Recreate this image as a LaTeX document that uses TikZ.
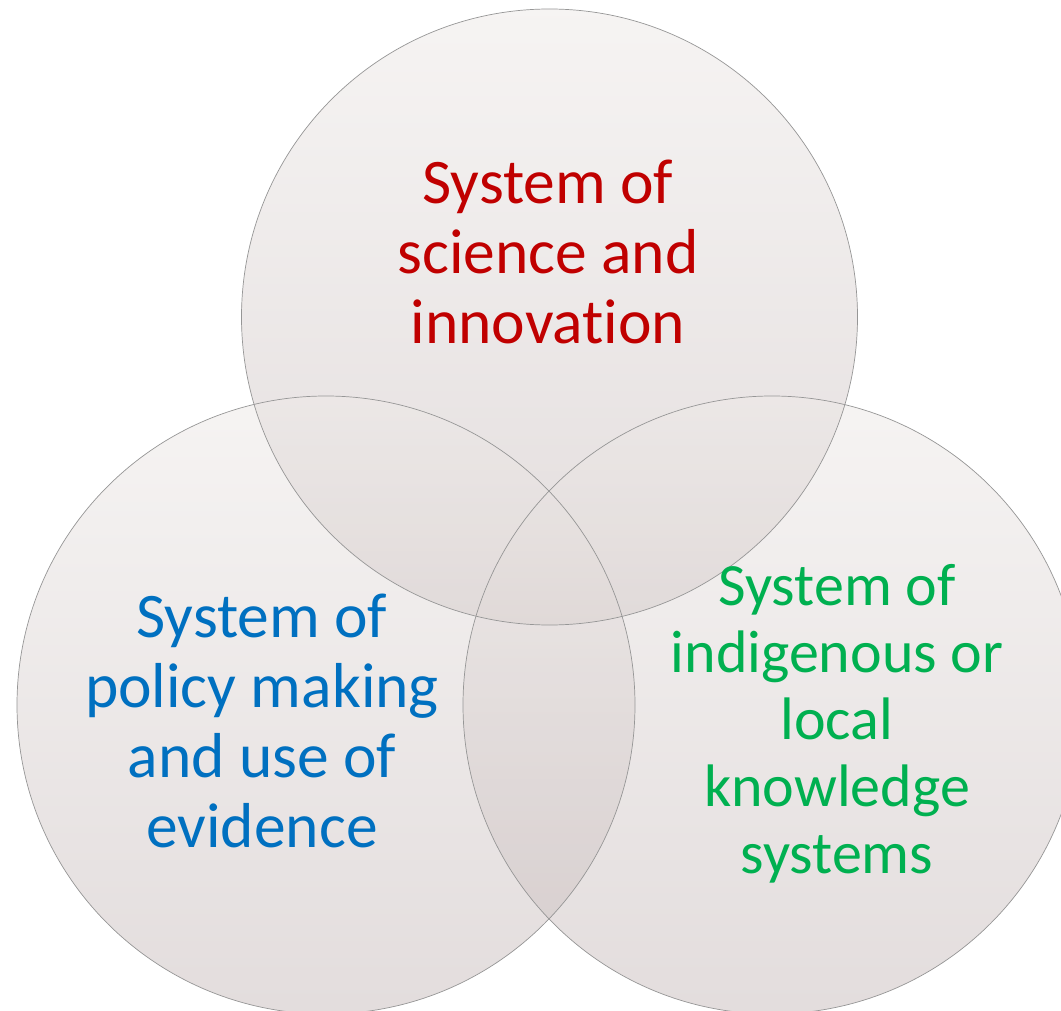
\documentclass[tikz,border=0pt]{standalone}
\usepackage{fontspec}
\setmainfont{Carlito}[Ligatures=CommonOff]
\definecolor{tred}{RGB}{192,0,0}
\definecolor{tblue}{RGB}{0,112,192}
\definecolor{tgreen}{RGB}{0,176,80}
\definecolor{ctop}{RGB}{238,234,232}
\definecolor{cbot}{RGB}{200,188,188}
\definecolor{rim}{RGB}{150,150,150}
\tikzset{
  vennfill/.style={top color=ctop, bottom color=cbot, fill opacity=0.5},
  vennrim/.style={draw=rim, line width=0.7pt},
  lbl/.style={align=center, inner sep=0pt, anchor=base},
  bigfont/.style={font=\fontsize{63.5}{70}\selectfont},
  smallfont/.style={font=\fontsize{60}{67}\selectfont}
}
\begin{document}
\begin{tikzpicture}[x=1pt,y=-1pt]
\useasboundingbox (0,0) rectangle (1061,1011);
\fill[white] (0,0) rectangle (1061,1011);
\coordinate (cT) at (549.5,317);
\coordinate (cL) at (326,705);
\coordinate (cR) at (772,705);
\begin{scope}
  \clip (0,0) rectangle (1061,1011);
  \shade[vennfill] (cT) circle (308pt);
  \shade[vennfill] (cL) circle (309pt);
  \shade[vennfill] (cR) circle (309pt);
  \draw[vennrim] (cT) circle (308pt);
  \draw[vennrim] (cL) circle (309pt);
  \draw[vennrim] (cR) circle (309pt);
\end{scope}
\node[lbl, bigfont, text=tred] (science) at (548,343) {System of\\science and\\innovation};
\node[lbl, bigfont, text=tblue] (policy) at (262,847) {System of\\policy making\\and use of\\evidence};
\node[lbl, smallfont, text=tgreen] (indigenous) at (837,873) {System of\\indigenous or\\local\\knowledge\\systems};
\end{tikzpicture}
\end{document}
